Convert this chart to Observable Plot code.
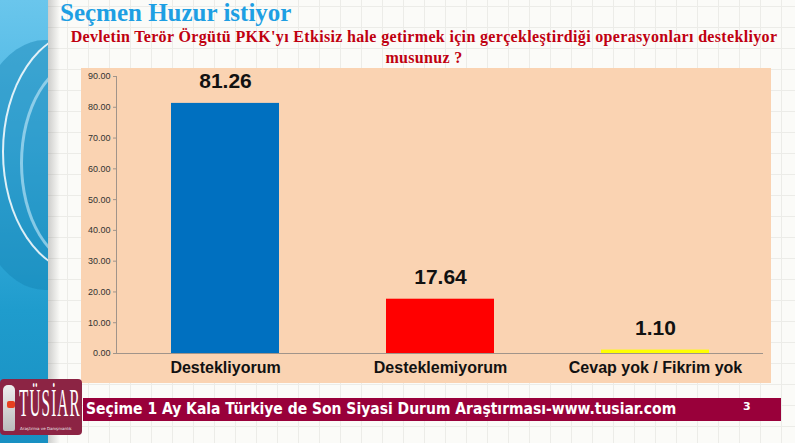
<!DOCTYPE html>
<html>
<head>
<meta charset="utf-8">
<script src="https://cdn.jsdelivr.net/npm/d3@7"></script>
<script src="https://cdn.jsdelivr.net/npm/@observablehq/plot@0.6"></script>
<style>
  html, body { margin:0; padding:0; }
  body { width:795px; height:443px; overflow:hidden; position:relative;
    background-color:#FBFBF8;
    background-image:
      linear-gradient(to right, #ECECE8 1px, transparent 1px),
      linear-gradient(to bottom, #ECECE8 1px, transparent 1px);
    background-size:21px 21px; background-position:4px 6px; }
  #strip { position:absolute; left:0; top:0; width:48px; height:443px; overflow:hidden;
    background:linear-gradient(180deg,#6AC6EC 0%,#44B3E2 35%,#1F9CCD 70%,#1890C2 100%); }
  #shadow { position:absolute; left:48px; top:0; width:12px; height:443px;
    background:linear-gradient(90deg, rgba(120,120,120,0.35), rgba(255,255,255,0)); }
  .ell { position:absolute; border-radius:50%; }
  #title { position:absolute; left:60px; top:0px; line-height:25px; font-family:"Liberation Serif",serif; font-weight:bold;
    font-size:25px; color:#1E9FE3; white-space:nowrap; }
  #subtitle { position:absolute; left:60px; width:728px; top:27px; text-align:center;
    font-family:"Liberation Serif",serif; font-weight:bold; font-size:16px; line-height:20.5px; letter-spacing:0.33px; color:#C00010; }
  #panel { position:absolute; left:81px; top:68px; width:690px; height:315px; background:#FAD3B2; }
  #band { position:absolute; left:83px; top:398px; width:698px; height:23px; background:#99003A; }
  #bandtext { position:absolute; left:86px; top:398px; height:23px; line-height:23px;
    font-family:"DejaVu Sans Condensed","DejaVu Sans",sans-serif; font-weight:bold; font-size:15.5px; color:#fff; white-space:nowrap; }
  #page { position:absolute; left:743px; top:400px; font-family:"DejaVu Sans",sans-serif; font-weight:bold; font-size:11px; color:#fff; }
  #logo { position:absolute; left:0; top:379px; width:82px; height:56px; background:#8C2444; border-radius:4px; overflow:hidden; }
  #logotext { position:absolute; left:19px; top:4px; line-height:40px; font-family:"Liberation Serif",serif; font-size:40px; color:#fff;
    transform:scaleX(0.38); transform-origin:left top; letter-spacing:3px; white-space:nowrap; }
  #logosub { position:absolute; left:20px; top:47px; line-height:5px; font-family:"DejaVu Sans",sans-serif; font-size:4px; color:#eee; white-space:nowrap; }
  #fig { position:absolute; left:3px; top:6px; width:12px; height:46px; background:linear-gradient(180deg,#eee,#bbb); border-radius:5px 5px 2px 2px; }
  #figred { position:absolute; left:7px; top:22px; width:8px; height:7px; background:#E84020; border-radius:2px; }
</style>
</head>
<body>
<div id="strip">
  <div class="ell" style="left:-30px;top:40px;width:150px;height:250px;background:rgba(20,130,180,0.45);"></div>
  <div class="ell" style="left:2px;top:30px;width:160px;height:240px;border:2px solid rgba(255,255,255,0.85);border-right-color:transparent;"></div>
  <div class="ell" style="left:20px;top:60px;width:120px;height:200px;border:3px solid rgba(200,235,250,0.6);border-right-color:transparent;"></div>
</div>
<div id="shadow"></div>
<div id="title">Seçmen Huzur istiyor</div>
<div id="subtitle">Devletin Terör Örgütü PKK'yı Etkisiz hale getirmek için gerçekleştirdiği operasyonları destekliyor<br>musunuz ?</div>
<div id="panel"></div>
<div id="chart" style="position:absolute;left:81px;top:68px;"></div>
<div id="band"></div>
<div id="bandtext">Seçime 1 Ay Kala Türkiye de Son Siyasi Durum Araştırması-www.tusiar.com</div>
<div id="page">3</div>
<div id="logo"><div id="fig"></div><div id="figred"></div><div id="logotext">TÜSİAR</div><div id="logosub">Araştırma ve Danışmanlık</div></div>
<script>
const categories = ["Destekliyorum", "Desteklemiyorum", "Cevap yok / Fikrim yok"];
const values = [81.26, 17.64, 1.10];
const barColors = ["#0070C0", "#FF0000", "#FFFF00"];
const yTicks = [0, 10, 20, 30, 40, 50, 60, 70, 80, 90];

const data = categories.map((c, i) => ({cat: c, val: values[i]}));

const chart = Plot.plot({
  width: 690,
  height: 315,
  marginLeft: 35,
  marginRight: 8,
  marginTop: 8,
  marginBottom: 30,
  style: {background: "transparent", fontFamily: "Liberation Sans, Arial, sans-serif", overflow: "visible"},
  x: {domain: categories, paddingInner: 0.5, paddingOuter: 0.25, label: null},
  y: {domain: [0, 90], label: null},
  color: {domain: categories, range: barColors},
  marks: [
    Plot.frame({anchor: "left", stroke: "#A0948A"}),
    Plot.ruleY([0], {stroke: "#A0948A"}),
    Plot.barY(data, {x: "cat", y: "val", fill: "cat"}),
    Plot.text(data, {x: "cat", y: "val", text: d => d.val.toFixed(2), dy: -15, lineAnchor: "bottom",
      fontSize: 21, fontWeight: "bold", fill: "#111"}),
    Plot.axisY({ticks: yTicks, tickFormat: d => d.toFixed(2), tickSize: 3, tickPadding: 3,
      fontSize: 9, fill: "#333", stroke: "#A0948A", label: null}),
    Plot.axisX({tickSize: 0, tickPadding: 8, fontSize: 16, fontWeight: "bold", fill: "#111", label: null})
  ]
});
document.getElementById("chart").appendChild(chart);
</script>
</body>
</html>
